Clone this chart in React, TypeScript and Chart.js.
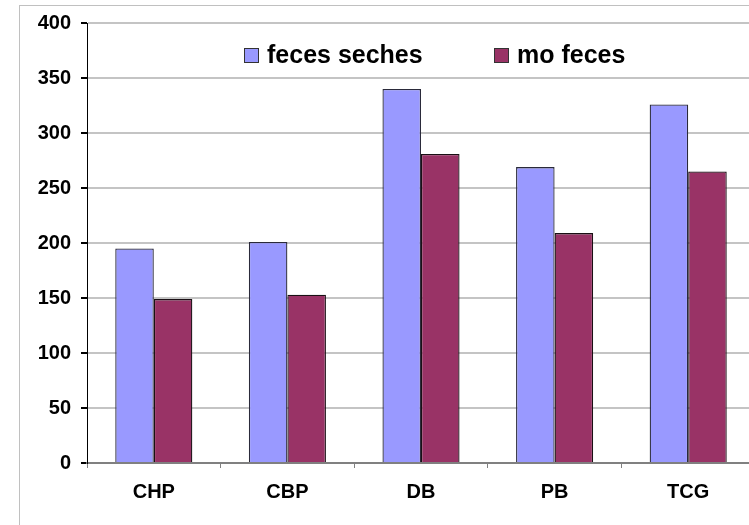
import React, { useEffect, useRef } from "react";
import { Chart, registerables } from "chart.js";

Chart.register(...registerables);

const categories = ["CHP", "CBP", "DB", "PB", "TCG"];
const fecesSeches = [195, 201, 340, 269, 326];
const moFeces = [149, 153, 281, 209, 265];
const seriesLabels = ["feces seches", "mo feces"];
const yTicks = [0, 50, 100, 150, 200, 250, 300, 350, 400];

const FONT = "'Liberation Sans', Arial, Helvetica, sans-serif";

const legendPlugin = {
  id: "inlineLegend",
  afterDraw(chart: any) {
    const ctx = chart.ctx;
    const area = chart.chartArea;
    const offsets = [157, 407];
    ctx.save();
    ctx.font = `bold 25px ${FONT}`;
    ctx.textBaseline = "alphabetic";
    ctx.textAlign = "left";
    chart.data.datasets.forEach((ds: any, i: number) => {
      const x = area.left + offsets[i];
      const y = 48;
      ctx.fillStyle = ds.backgroundColor;
      ctx.fillRect(x, y, 14, 14);
      ctx.strokeStyle = "#333333";
      ctx.lineWidth = 1;
      ctx.strokeRect(x + 0.5, y + 0.5, 14, 14);
      ctx.fillStyle = "#000";
      ctx.fillText(ds.label, x + 23, 63);
    });
    ctx.restore();
  },
};

export default function App() {
  const ref = useRef<HTMLCanvasElement>(null);
  useEffect(() => {
    if (!ref.current) return;
    const chart = new Chart(ref.current, {
      type: "bar",
      data: {
        labels: categories,
        datasets: [
          {
            label: seriesLabels[0],
            data: fecesSeches,
            backgroundColor: "#9999FF",
            borderColor: "#2a2a3a",
            borderWidth: 1.3,
            categoryPercentage: 0.577,
            barPercentage: 1,
          },
          {
            label: seriesLabels[1],
            data: moFeces,
            backgroundColor: "#993366",
            borderColor: "#1a1015",
            borderWidth: 1.3,
            categoryPercentage: 0.577,
            barPercentage: 1,
          },
        ],
      },
      options: {
        responsive: false,
        animation: false,
        layout: { padding: { top: 23, right: 5, left: 0, bottom: 0 } },
        plugins: { legend: { display: false }, tooltip: { enabled: false } },
        scales: {
          x: {
            grid: {
              drawOnChartArea: false,
              drawTicks: true,
              tickLength: 5,
              tickColor: "#808080",
              offset: true,
            },
            border: { color: "#808080", width: 2 },
            ticks: {
              color: "#000",
              font: { family: FONT, size: 20, weight: "bold" },
              padding: 12,
              maxRotation: 0,
            },
            afterFit(scale: any) {
              scale.height = 62;
            },
          },
          y: {
            min: 0,
            max: 400,
            afterBuildTicks(scale: any) {
              scale.ticks = yTicks.map((v) => ({ value: v }));
            },
            grid: {
              color: "#c4c4c4",
              lineWidth: 2,
              tickColor: "#000",
              tickLength: 6,
            },
            border: { color: "#000", width: 1 },
            ticks: {
              color: "#000",
              font: { family: FONT, size: 20, weight: "bold" },
              padding: 10,
            },
            afterFit(scale: any) {
              scale.width = 87;
            },
          },
        },
      },
      plugins: [legendPlugin],
    } as any);
    return () => chart.destroy();
  }, []);

  return (
    <div
      style={{
        position: "fixed",
        left: 0,
        top: 0,
        width: 749,
        height: 525,
        overflow: "hidden",
        background: "#fff",
      }}
    >
      <div
        style={{
          position: "absolute",
          left: 19,
          top: 5,
          width: 800,
          height: 600,
          border: "1px solid #c0c0c0",
        }}
      />
      <canvas
        ref={ref}
        width={760}
        height={525}
        style={{ position: "absolute", left: 0, top: 0, width: 760, height: 525 }}
      />
    </div>
  );
}
